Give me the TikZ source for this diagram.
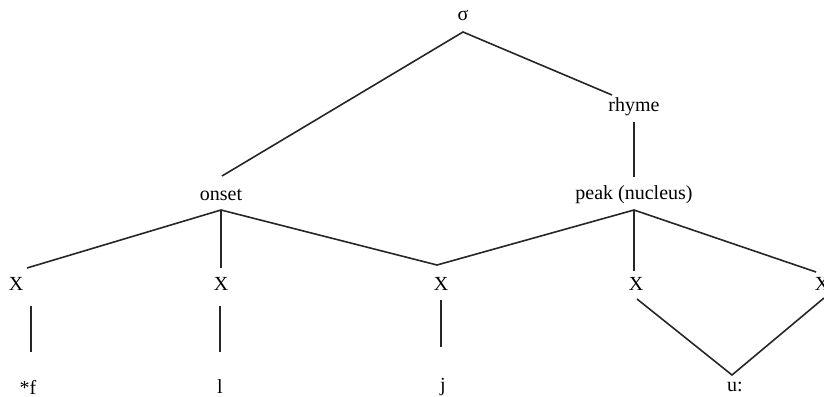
\documentclass[tikz,border=0pt]{standalone}
\usepackage{fontspec}
\setmainfont{Liberation Serif}
\begin{document}
\begin{tikzpicture}[x=0.5pt,y=-0.5pt,
  lbl/.style={inner sep=0pt, font=\fontsize{10}{12}\selectfont},
  branch/.style={line width=0.8pt, black!85}]
\useasboundingbox (0,0) rectangle (824,396);
% labels
\node[lbl] (syl)   at (463,15)  {σ};
\node[lbl] (rhyme) at (634,107) {rhyme};
\node[lbl] (onset) at (221,195) {onset};
\node[lbl] (peak)  at (634,195) {peak (nucleus)};
\node[lbl] (x1) at (16,284)  {X};
\node[lbl] (x2) at (221,284) {X};
\node[lbl] (x3) at (441,284) {X};
\node[lbl] (x4) at (636,284) {X};
\node[lbl] (x5) at (822,284) {X};
\node[lbl] (s1) at (28,387)  {*f};
\node[lbl] (s2) at (220,387) {l};
\node[lbl] (s3) at (443,387) {j};
\node[lbl] (s4) at (735,387) {u:};
% attachment points
\coordinate (sylB)   at (463,32);
\coordinate (onsT)   at (222,176);
\coordinate (rhyT)   at (612,95);
\coordinate (rhyB)   at (634,122);
\coordinate (peaT)   at (634,177);
\coordinate (onsB)   at (221,210);
\coordinate (peaB)   at (634,210);
\coordinate (x1T) at (27,268);
\coordinate (x2T) at (221,268);
\coordinate (x3T) at (437,265);
\coordinate (x4T) at (634,271);
\coordinate (x5T) at (816,272);
\coordinate (x1B) at (31,306);
\coordinate (x2B) at (220,306);
\coordinate (x3B) at (441,300);
\coordinate (x4B) at (637,299);
\coordinate (x5B) at (824,298);
\coordinate (s1T) at (31,352);
\coordinate (s2T) at (220,352);
\coordinate (s3T) at (441,347);
\coordinate (s4T) at (732,375);
% branches
\draw[branch] (onsT) -- (sylB) -- (rhyT);
\draw[branch] (rhyB) -- (peaT);
\draw[branch] (x1T) -- (onsB) -- (x3T) -- (peaB) -- (x5T);
\draw[branch] (onsB) -- (x2T);
\draw[branch] (peaB) -- (x4T);
\draw[branch] (x1B) -- (s1T);
\draw[branch] (x2B) -- (s2T);
\draw[branch] (x3B) -- (s3T);
\draw[branch] (x4B) -- (s4T) -- (x5B);
\end{tikzpicture}
\end{document}
